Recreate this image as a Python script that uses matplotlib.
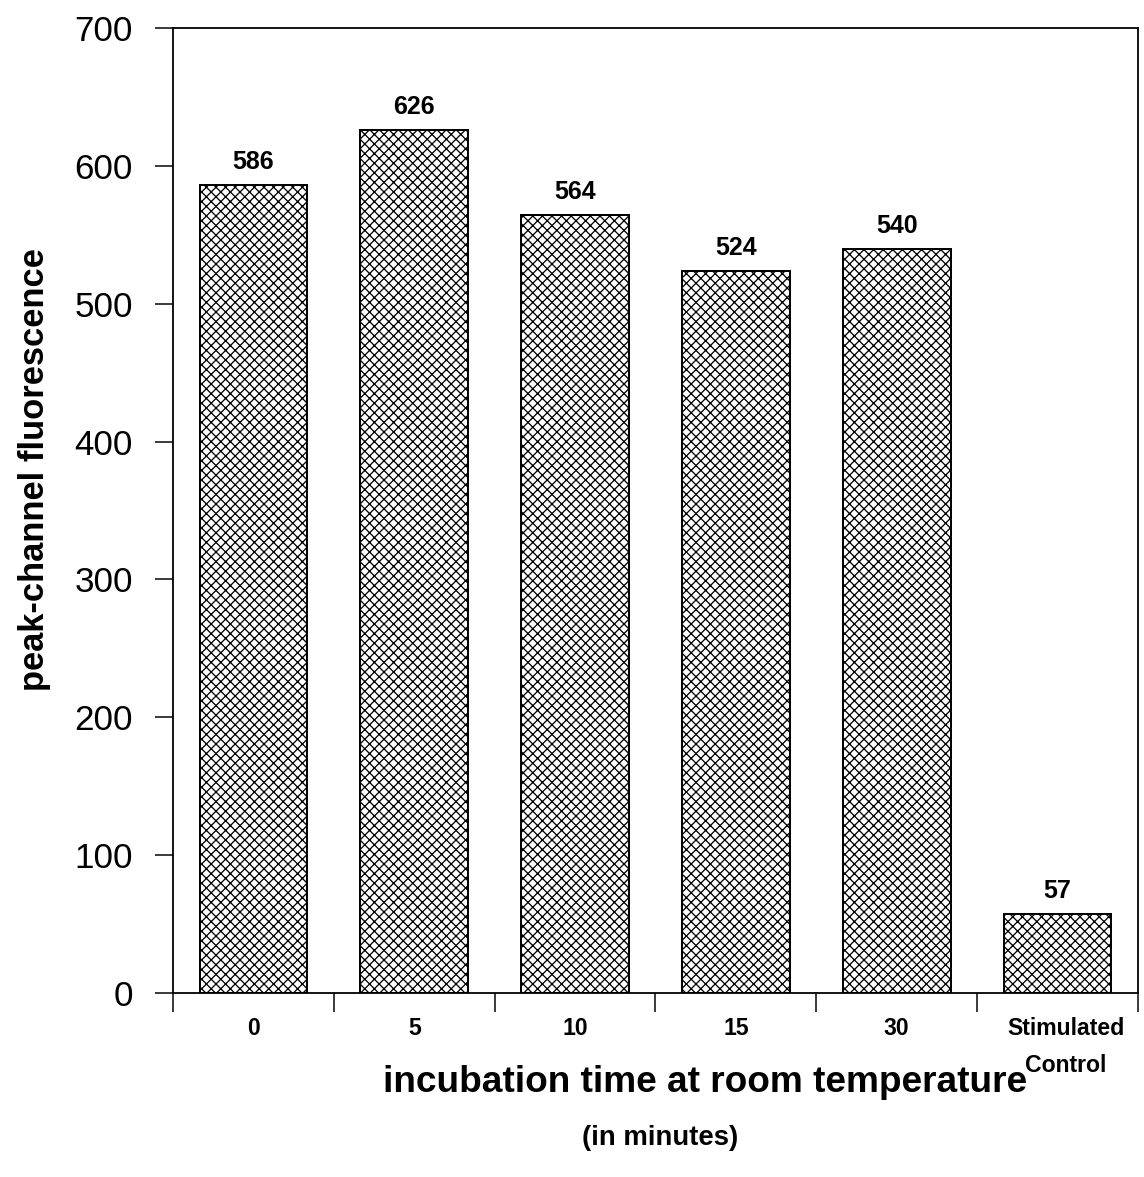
import matplotlib
matplotlib.use("Agg")
import matplotlib.pyplot as plt
import matplotlib.transforms as mtransforms
import numpy as np

categories = ["0", "5", "10", "15", "30", "Stimulated\nControl"]
values = [586, 626, 564, 524, 540, 57]
yticks = [0, 100, 200, 300, 400, 500, 600, 700]

DPI = 144
W, H = 1144, 1177


def px(p):
    """pixels -> points at the chosen dpi"""
    return p * 72.0 / DPI


plt.rcParams['font.family'] = ['Liberation Sans', 'DejaVu Sans']
plt.rcParams['hatch.linewidth'] = px(1.3)
plt.rcParams['hatch.color'] = '#111111'

fig = plt.figure(figsize=(W / DPI, H / DPI), dpi=DPI)
ax = fig.add_axes([173 / W, 1 - 993 / H, (1138 - 173) / W, (993 - 28) / H])

x = np.arange(len(categories))
bars = ax.bar(x, values, width=0.67, color='white', edgecolor='black',
              linewidth=px(2), hatch='xxxxx')

for xi, v in zip(x, values):
    ax.annotate(str(v), (xi, v), xytext=(0, px(11)), textcoords='offset points',
                ha='center', va='bottom', fontsize=px(25), fontweight='bold')

ax.set_xlim(-0.5, len(categories) - 0.5)
ax.set_ylim(0, 700)
ax.set_yticks(yticks)
ax.tick_params(axis='y', direction='out', length=px(18), width=px(1.5),
               labelsize=px(35), pad=px(22))

ax.set_xticks(x)
ax.set_xticklabels(categories, fontsize=px(23), fontweight='bold', linespacing=1.8)
ax.tick_params(axis='x', which='major', length=0, pad=px(24))
ax.set_xticks(np.arange(len(categories) + 1) - 0.5, minor=True)
ax.tick_params(axis='x', which='minor', direction='out', length=px(19), width=px(1.5))

last = ax.get_xticklabels()[-1]
last.set_transform(last.get_transform() +
                   mtransforms.ScaledTranslation(8 / DPI, 0, fig.dpi_scale_trans))

for s in ax.spines.values():
    s.set_linewidth(px(1.8))

fig.text(35 / W, 1 - 470 / H, "peak-channel fluorescence", rotation=90,
         ha='center', va='center', fontsize=px(34.5), fontweight='bold')
fig.text(705 / W, 1 - 1083 / H, "incubation time at room temperature",
         ha='center', va='center', fontsize=px(37), fontweight='bold')
fig.text(660 / W, 1 - 1138 / H, "(in minutes)", ha='center', va='center',
         fontsize=px(27.5), fontweight='bold')

fig.savefig("out.png", dpi=DPI)
